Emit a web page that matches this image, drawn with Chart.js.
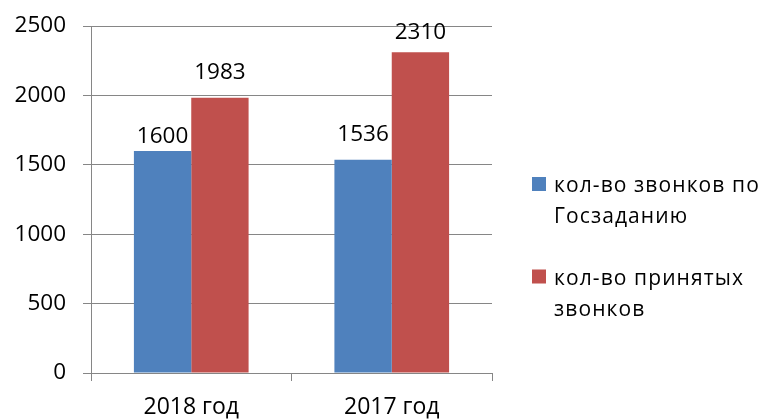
<!DOCTYPE html>
<html><head><meta charset="utf-8">
<script src="https://cdn.jsdelivr.net/npm/chart.js@4/dist/chart.umd.min.js"></script>
<style>html,body{margin:0;padding:0;background:#fff;overflow:hidden}#wrap{width:762px;height:419px;position:relative}</style>
</head><body><div id="wrap"><canvas id="c" width="762" height="419"></canvas></div>
<script>
const categories = ['2018 год', '2017 год'];
const seriesNames = [['кол-во звонков по', 'Госзаданию'], ['кол-во принятых', 'звонков']];
const callsByTask = [1600, 1536];
const callsAccepted = [1983, 2310];
const yTicks = [0, 500, 1000, 1500, 2000, 2500];

const colors = ['#4F81BD', '#C0504D'];
const labelLift = [[8, 19], [19, 13]];
const FONT = "'Open Sans', 'DejaVu Sans', sans-serif";

const valueLabels = {
  id: 'valueLabels',
  afterDatasetsDraw(chart) {
    const ctx = chart.ctx;
    ctx.save();
    ctx.font = '22.5px ' + FONT;
    ctx.fillStyle = '#000';
    ctx.textAlign = 'center';
    ctx.textBaseline = 'alphabetic';
    chart.data.datasets.forEach((ds, di) => {
      const meta = chart.getDatasetMeta(di);
      meta.data.forEach((bar, i) => {
        ctx.fillText(String(ds.data[i]), bar.x, bar.y - labelLift[di][i]);
      });
    });
    ctx.restore();
  }
};

const sideLegend = {
  id: 'sideLegend',
  afterDraw(chart) {
    const ctx = chart.ctx;
    ctx.save();
    ctx.font = '21px ' + FONT;
    ctx.letterSpacing = '1.1px';
    ctx.textAlign = 'left';
    ctx.textBaseline = 'alphabetic';
    const x0 = 532, y0 = 177, step = 92.5, lh = 31;
    chart.data.datasets.forEach((ds, di) => {
      const top = y0 + di * step;
      ctx.fillStyle = ds.backgroundColor;
      ctx.fillRect(x0, top, 14, 14);
      ctx.fillStyle = '#000';
      seriesNames[di].forEach((line, li) => {
        ctx.fillText(line, x0 + 22, top + 15 + li * lh);
      });
    });
    ctx.restore();
  }
};

new Chart(document.getElementById('c'), {
  type: 'bar',
  data: {
    labels: categories,
    datasets: [
      { label: seriesNames[0].join(' '), data: callsByTask, backgroundColor: colors[0], categoryPercentage: 0.572, barPercentage: 1 },
      { label: seriesNames[1].join(' '), data: callsAccepted, backgroundColor: colors[1], categoryPercentage: 0.572, barPercentage: 1 }
    ]
  },
  options: {
    responsive: false,
    animation: false,
    devicePixelRatio: 1,
    layout: { padding: { left: 0, top: 26, right: 270, bottom: 0 } },
    plugins: { legend: { display: false }, tooltip: { enabled: false } },
    scales: {
      x: {
        offset: true,
        grid: { offset: true, drawOnChartArea: false, drawTicks: true, tickLength: 8, color: '#868686' },
        border: { color: '#868686' },
        ticks: { font: { family: FONT, size: 23 }, color: '#000', padding: 13, maxRotation: 0 },
        afterFit: s => { s.height = 46; s.paddingLeft = 0; s.paddingRight = 0; }
      },
      y: {
        min: yTicks[0],
        max: yTicks[yTicks.length - 1],
        afterBuildTicks: s => { s.ticks = yTicks.map(v => ({ value: v })); },
        grid: { color: '#868686', tickLength: 8 },
        border: { color: '#868686' },
        ticks: { font: { family: FONT, size: 22.5 }, color: '#000', padding: 17, callback: v => String(v) },
        afterFit: s => { s.width = 91; s.paddingTop = 0; s.paddingBottom = 0; }
      }
    }
  },
  plugins: [valueLabels, sideLegend]
});
</script>
</body></html>
